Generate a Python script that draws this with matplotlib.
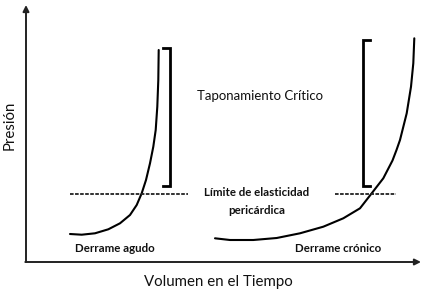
import matplotlib.pyplot as plt

# schematic read in picture units (x right, y down), 425 x 292
acute_x = [70, 81.7, 95, 108.3, 120, 130, 136.7, 141.7, 146, 150, 153.3,
           155.7, 157.3, 158.3, 158.7]
acute_y = [234, 234.7, 233.3, 229.3, 223.3, 215, 205, 193.3, 180, 163.3, 146.7,
           130, 106.7, 80, 50]

chronic_x = [215, 230, 253.3, 276.7, 300, 323.3, 343.3, 360, 371.7, 383.3,
             392.5, 396.5, 400, 406.7, 411, 413.3, 414.3]
chronic_y = [238.3, 240, 240, 238, 233.3, 226.7, 218.3, 208.3, 193.3, 178.3,
             160.5, 150, 140, 113.3, 86.7, 63.3, 38.3]

limit_y = 193.5
acute_limit = (70, 188)
chronic_limit = (335, 396)

acute_bracket = dict(x=170, top=48.3, bottom=185.7, tick=-7)
chronic_bracket = dict(x=363.3, top=40, bottom=186, tick=7)

plt.rcParams['font.family'] = ['Lato', 'DejaVu Sans']

fig = plt.figure(figsize=(4.25, 2.92), dpi=100)
ax = fig.add_axes([0, 0, 1, 1])
ax.set_xlim(0, 425)
ax.set_ylim(292, 0)
ax.axis('off')

# axes with arrows
ax.annotate('', xy=(26, 5), xytext=(26, 262),
            arrowprops=dict(arrowstyle='-|>', color='#222222', lw=1.4,
                            mutation_scale=9, shrinkA=0, shrinkB=0))
ax.annotate('', xy=(421, 262), xytext=(25.3, 262),
            arrowprops=dict(arrowstyle='-|>', color='#222222', lw=1.4,
                            mutation_scale=9, shrinkA=0, shrinkB=0))

ax.plot(acute_x, acute_y, color='black', lw=1.5, solid_capstyle='round',
        solid_joinstyle='round')
ax.plot(chronic_x, chronic_y, color='black', lw=1.5, solid_capstyle='round',
        solid_joinstyle='round')

for x0, x1 in (acute_limit, chronic_limit):
    ax.plot([x0, x1], [limit_y, limit_y], color='#222222', lw=1.3,
            dashes=(2, 0.8))

for b in (acute_bracket, chronic_bracket):
    xs = [b['x'] + b['tick'], b['x'], b['x'], b['x'] + b['tick']]
    ys = [b['top'], b['top'], b['bottom'], b['bottom']]
    ax.plot(xs, ys, color='black', lw=2, solid_joinstyle='miter')

ax.text(260, 96, 'Taponamiento Crítico', ha='center', va='center',
        fontsize=9.5, color='#111111')
ax.text(257, 192, 'Límite de elasticidad', ha='center', va='center',
        fontsize=8.3, fontweight='bold', color='#111111')
ax.text(257, 210, 'pericárdica', ha='center', va='center',
        fontsize=8.3, fontweight='bold', color='#111111')
ax.text(115, 248, 'Derrame agudo', ha='center', va='center',
        fontsize=8.3, fontweight='bold', color='#111111')
ax.text(338, 248, 'Derrame crónico', ha='center', va='center',
        fontsize=8.3, fontweight='bold', color='#111111')

ax.text(218, 282, 'Volumen en el Tiempo', ha='center', va='center',
        fontsize=10.8, color='#111111')
ax.text(10, 125, 'Presión', ha='center', va='center', rotation=90,
        fontsize=10.8, color='#111111')

fig.savefig('out.png', dpi=100, facecolor='white')
